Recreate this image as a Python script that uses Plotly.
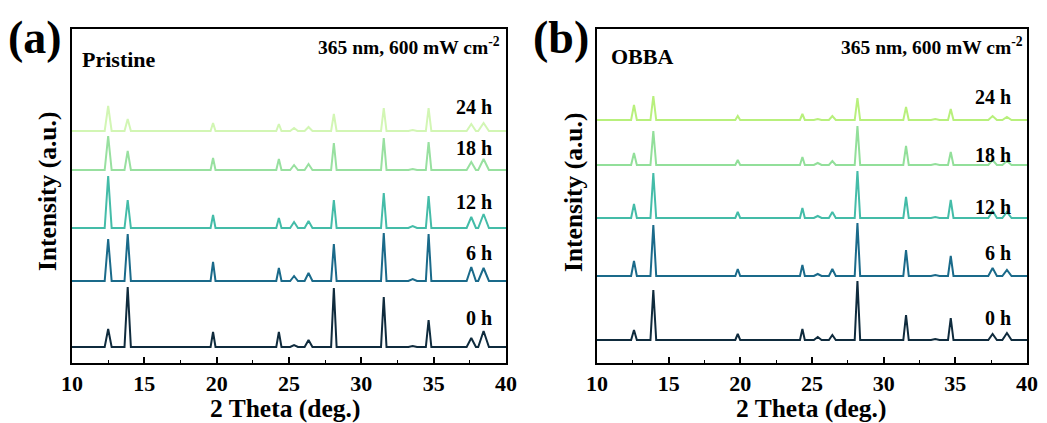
import plotly.graph_objects as go

# ---------------- data ----------------
hours = ["0 h", "6 h", "12 h", "18 h", "24 h"]

# Panel (a) Pristine
peaks_a = [12.5, 13.85, 19.75, 24.3, 25.35, 26.35, 28.1, 31.55, 33.55, 34.65, 37.6, 38.45]
widths_a = [0.24, 0.22, 0.17, 0.18, 0.27, 0.27, 0.19, 0.19, 0.3, 0.19, 0.32, 0.37]
heights_a = {
    "0 h":  [18, 60, 15, 15, 2, 7, 59, 50, 1, 27, 9, 16],
    "6 h":  [42, 47, 19, 13, 5, 8, 37, 48, 2, 47, 14, 13],
    "12 h": [52, 28, 13, 10, 6, 7, 28, 35, 2, 32, 11, 14],
    "18 h": [34, 19, 12, 11, 5, 6, 27, 32, 1, 28, 8, 11],
    "24 h": [25, 12, 8, 7, 3, 4, 17, 23, 1, 23, 7, 8],
}
offsets_a = {"0 h": 16, "6 h": 82, "12 h": 135, "18 h": 193, "24 h": 232}
label_y_a = {"0 h": 45, "6 h": 110, "12 h": 161, "18 h": 215, "24 h": 256}

# Panel (b) OBBA
peaks_b = [12.58, 13.93, 19.82, 24.33, 25.4, 26.42, 28.17, 31.56, 33.6, 34.68, 37.6, 38.6]
widths_b = [0.2, 0.2, 0.17, 0.17, 0.27, 0.24, 0.19, 0.19, 0.3, 0.19, 0.3, 0.32]
heights_b = {
    "0 h":  [10, 50, 6, 11, 3, 5, 59, 25, 1, 22, 6, 7],
    "6 h":  [15, 51, 7, 11, 2, 7, 53, 26, 1, 20, 8, 6],
    "12 h": [14, 45, 6, 10, 2, 6, 47, 21, 1, 18, 7, 6],
    "18 h": [12, 34, 5, 8, 2, 4, 39, 19, 1, 13, 5, 4],
    "24 h": [15, 24, 4, 6, 1, 4, 22, 13, 1, 11, 4, 3],
}
offsets_b = {"0 h": 23, "6 h": 87, "12 h": 145, "18 h": 198, "24 h": 243}
label_y_b = {"0 h": 45, "6 h": 110, "12 h": 156, "18 h": 208, "24 h": 266}

colors_a = {"0 h": "#0f2b3d", "6 h": "#1a6a8a", "12 h": "#44bca8", "18 h": "#98e0a0", "24 h": "#d2f6b4"}
colors_b = {"0 h": "#0f2b3d", "6 h": "#1a6a8a", "12 h": "#44bca8", "18 h": "#92df9a", "24 h": "#b8f07c"}

x_range = [10, 40]
x_ticks = [10, 15, 20, 25, 30, 35, 40]

FONT = "Liberation Serif"


def pattern(peaks, widths, heights, offset):
    xs, ys = [x_range[0]], [offset]
    for p, w, h in zip(peaks, widths, heights):
        xs += [p - w, p, p + w]
        ys += [offset, offset + h, offset]
    xs.append(x_range[1])
    ys.append(offset)
    return xs, ys


fig = go.Figure()

for h in hours:
    xs, ys = pattern(peaks_a, widths_a, heights_a[h], offsets_a[h])
    fig.add_trace(go.Scatter(x=xs, y=ys, mode="lines", name=h, showlegend=False,
                             line=dict(color=colors_a[h], width=2), xaxis="x", yaxis="y"))
    xs, ys = pattern(peaks_b, widths_b, heights_b[h], offsets_b[h])
    fig.add_trace(go.Scatter(x=xs, y=ys, mode="lines", name=h, showlegend=False,
                             line=dict(color=colors_b[h], width=2), xaxis="x2", yaxis="y2"))

W, H = 1047, 423
ytop, ybot = 29, 363


def xaxis_cfg(domain, anchor):
    return dict(domain=domain, anchor=anchor, range=x_range, tickvals=x_ticks,
                ticks="inside", ticklen=6, tickwidth=1.5, tickcolor="black",
                minor=dict(dtick=2.5, tick0=10, ticks="inside", ticklen=3, tickwidth=1.2, tickcolor="black"),
                showline=True, linewidth=2, linecolor="black", mirror=True,
                showgrid=False, zeroline=False, automargin=False,
                tickfont=dict(family=FONT, size=22, color="black", weight="bold"))


def yaxis_cfg(anchor):
    return dict(domain=[1 - ybot / H, 1 - ytop / H], anchor=anchor, range=[0, ybot - ytop],
                showticklabels=False, ticks="", showline=True, linewidth=2, linecolor="black",
                mirror=True, showgrid=False, zeroline=False, automargin=False)


fig.update_layout(
    width=W, height=H, margin=dict(l=0, r=0, t=0, b=0, autoexpand=False),
    paper_bgcolor="white", plot_bgcolor="white",
    xaxis=xaxis_cfg([72 / W, 506 / W], "y"),
    yaxis=yaxis_cfg("x"),
    xaxis2=xaxis_cfg([597 / W, 1027 / W], "y2"),
    yaxis2=yaxis_cfg("x2"),
)

ann = []
for h in hours:
    ann.append(dict(x=39.17, y=label_y_a[h], xref="x", yref="y", text=h, showarrow=False,
                    xanchor="right", yanchor="middle",
                    font=dict(family=FONT, size=20, color="black", weight="bold")))
    ann.append(dict(x=39.03, y=label_y_b[h], xref="x2", yref="y2", text=h, showarrow=False,
                    xanchor="right", yanchor="middle",
                    font=dict(family=FONT, size=20, color="black", weight="bold")))


def paper_text(px, py, text, size, xanchor="left", angle=0):
    return dict(x=px / W, y=1 - py / H, xref="paper", yref="paper", text=text, showarrow=False,
                xanchor=xanchor, yanchor="middle", textangle=angle,
                font=dict(family=FONT, size=size, color="black", weight="bold"))


ann += [
    paper_text(6, 37, "(a)", 46),
    paper_text(531, 37, "(b)", 46),
    paper_text(80, 60, "Pristine", 22),
    paper_text(609, 57, "OBBA", 22),
    paper_text(502, 46, "365 nm, 600 mW cm<sup>-2</sup>", 19.5, xanchor="right"),
    paper_text(1025, 46, "365 nm, 600 mW cm<sup>-2</sup>", 19.5, xanchor="right"),
    paper_text(47, 192, "Intensity (a.u.)", 25.5, xanchor="center", angle=-90),
    paper_text(573, 193, "Intensity (a.u.)", 25.5, xanchor="center", angle=-90),
    paper_text(285, 408, "2 Theta (deg.)", 25.5, xanchor="center"),
    paper_text(811, 408, "2 Theta (deg.)", 25.5, xanchor="center"),
]
fig.update_layout(annotations=ann)

fig.write_html("out.html")
